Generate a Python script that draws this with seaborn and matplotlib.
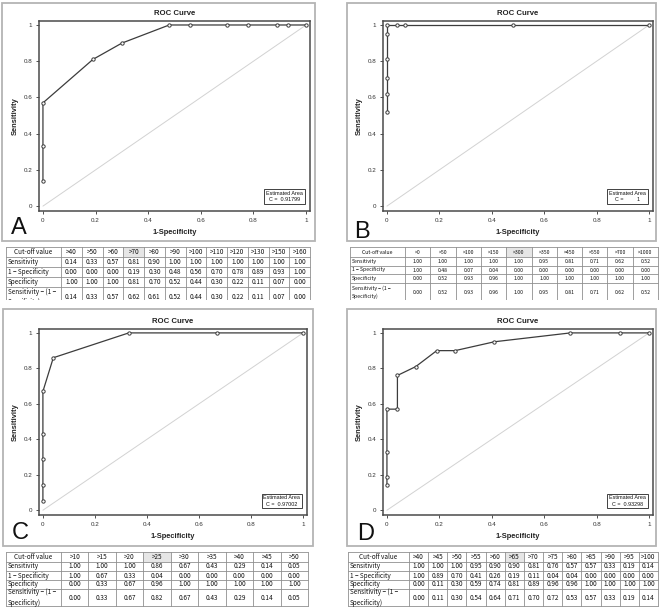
import matplotlib
matplotlib.use("Agg")
import matplotlib.pyplot as plt
import seaborn as sns
import pandas as pd
from matplotlib.patches import Rectangle

sns.set_theme(style="white")
plt.rcParams['font.family'] = ['Liberation Sans', 'DejaVu Sans']

# ---------------- data ----------------
a_cut = [">40", ">50", ">60", ">70", ">80", ">90", ">100", ">110", ">120", ">130", ">150", ">160"]
a_sens = [0.14, 0.33, 0.57, 0.81, 0.90, 1.00, 1.00, 1.00, 1.00, 1.00, 1.00, 1.00]
a_fpr = [0.00, 0.00, 0.00, 0.19, 0.30, 0.48, 0.56, 0.70, 0.78, 0.89, 0.93, 1.00]
a_spec = [1.00, 1.00, 1.00, 0.81, 0.70, 0.52, 0.44, 0.30, 0.22, 0.11, 0.07, 0.00]
a_youden = [0.14, 0.33, 0.57, 0.62, 0.61, 0.52, 0.44, 0.30, 0.22, 0.11, 0.07, 0.00]
a_auc = "0.91799"

b_cut = [">0", ">50", ">100", ">150", ">300", ">350", ">450", ">550", ">700", ">1000"]
b_sens = [1.00, 1.00, 1.00, 1.00, 1.00, 0.95, 0.81, 0.71, 0.62, 0.52]
b_fpr = [1.00, 0.48, 0.07, 0.04, 0.00, 0.00, 0.00, 0.00, 0.00, 0.00]
b_spec = [0.00, 0.52, 0.93, 0.96, 1.00, 1.00, 1.00, 1.00, 1.00, 1.00]
b_youden = [0.00, 0.52, 0.93, 0.96, 1.00, 0.95, 0.81, 0.71, 0.62, 0.52]
b_auc = "       1"

c_cut = [">10", ">15", ">20", ">25", ">30", ">35", ">40", ">45", ">50"]
c_sens = [1.00, 1.00, 1.00, 0.86, 0.67, 0.43, 0.29, 0.14, 0.05]
c_fpr = [1.00, 0.67, 0.33, 0.04, 0.00, 0.00, 0.00, 0.00, 0.00]
c_spec = [0.00, 0.33, 0.67, 0.96, 1.00, 1.00, 1.00, 1.00, 1.00]
c_youden = [0.00, 0.33, 0.67, 0.82, 0.67, 0.43, 0.29, 0.14, 0.05]
c_auc = "0.97002"

d_cut = [">40", ">45", ">50", ">55", ">60", ">65", ">70", ">75", ">80", ">85", ">90", ">95", ">100"]
d_sens = [1.00, 1.00, 1.00, 0.95, 0.90, 0.90, 0.81, 0.76, 0.57, 0.57, 0.33, 0.19, 0.14]
d_fpr = [1.00, 0.89, 0.70, 0.41, 0.26, 0.19, 0.11, 0.04, 0.04, 0.00, 0.00, 0.00, 0.00]
d_spec = [0.00, 0.11, 0.30, 0.59, 0.74, 0.81, 0.89, 0.96, 0.96, 1.00, 1.00, 1.00, 1.00]
d_youden = [0.00, 0.11, 0.30, 0.54, 0.64, 0.71, 0.70, 0.72, 0.53, 0.57, 0.33, 0.19, 0.14]
d_auc = "0.93298"

row_labels = ["Cut-off value", "Sensitivity", "1 \u2212 Specificity", "Specificity",
              "Sensitivity \u2212 (1 \u2212\nSpecificity)"]
ticks = [0, 0.2, 0.4, 0.6, 0.8, 1]
tick_labels = ["0", "0.2", "0.4", "0.6", "0.8", "1"]

# ---------------- layout helpers ----------------
W, H = 661, 612
fig = plt.figure(figsize=(W / 100, H / 100), dpi=100)
fig.patch.set_facecolor("white")


def rect(x0, y0, x1, y1):
    return [x0 / W, 1 - y1 / H, (x1 - x0) / W, (y1 - y0) / H]


def frame(x0, y0, x1, y1):
    fig.patches.append(Rectangle((x0 / W, 1 - y1 / H), (x1 - x0) / W, (y1 - y0) / H,
                                 transform=fig.transFigure, fill=False,
                                 ec="#b4b4b4", lw=1.3, zorder=0))


def roc(box, fpr, sens, auc):
    ax = fig.add_axes(rect(*box))
    ax.plot([0, 1], [0, 1], color="#d2d2d2", lw=0.7, zorder=1)
    df = pd.DataFrame({"fpr": fpr, "sens": sens})
    sns.lineplot(data=df, x="fpr", y="sens", sort=False, estimator=None, ax=ax,
                 color="#3c3c3c", lw=0.9, marker="o", markersize=2.4,
                 markerfacecolor="white", markeredgecolor="#3c3c3c",
                 markeredgewidth=0.7, zorder=3)
    ax.set_xlim(-0.015, 1.015)
    ax.set_ylim(-0.027, 1.022)
    ax.set_xticks(ticks)
    ax.set_xticklabels(tick_labels)
    ax.set_yticks(ticks)
    ax.set_yticklabels(tick_labels)
    ax.tick_params(axis="both", which="both", length=2.5, width=0.6, labelsize=4.5,
                   pad=2.5, colors="#333333", direction="out", bottom=True, left=True)
    for s in ax.spines.values():
        s.set_color("#4a4a4a")
        s.set_linewidth(1.1)
    ax.set_title("ROC Curve", fontsize=5.6, fontweight="bold", pad=4, color="#222222")
    ax.set_xlabel("1-Specificity", fontsize=5.4, fontweight="bold", labelpad=4.5, color="#222222")
    ax.set_ylabel("Sensitivity", fontsize=5.4, fontweight="bold", labelpad=3, color="#222222")
    ax.text(0.974, 0.045, "Estimated Area\nC =  " + auc, transform=ax.transAxes,
            ha="right", va="bottom", multialignment="center", fontsize=3.9,
            color="#111111", linespacing=1.35,
            bbox=dict(boxstyle="square,pad=0.3", fc="white", ec="#222222", lw=0.6),
            zorder=5)
    return ax


def table(x0, x1, first_w, rows_y, clip_y, cuts, vals, hl, fs, ls):
    ax = fig.add_axes(rect(x0 - 1, rows_y[0] - 1, x1 + 1, clip_y))
    ax.set_xlim(x0 - 1, x1 + 1)
    ax.set_ylim(clip_y, rows_y[0] - 1)
    ax.axis("off")
    n = len(cuts)
    cw = (x1 - x0 - first_w) / n
    xs = [x0, x0 + first_w] + [x0 + first_w + cw * (i + 1) for i in range(n)]
    ax.add_patch(Rectangle((xs[hl + 1], rows_y[0]), cw, rows_y[1] - rows_y[0],
                           fc="#e6e6e6", ec="none", zorder=0))
    for y in rows_y:
        ax.plot([x0, x1], [y, y], color="#8f8f8f", lw=0.6, zorder=2)
    for x in xs:
        ax.plot([x, x], [rows_y[0], rows_y[-1]], color="#8f8f8f", lw=0.6, zorder=2)
    fam = ["Noto Sans CJK JP", "DejaVu Sans"]
    for r in range(5):
        yc = (rows_y[r] + rows_y[r + 1]) / 2
        if r == 0:
            ax.text((xs[0] + xs[1]) / 2, yc, row_labels[0], ha="center", va="center",
                    fontsize=fs, family=fam, color="#111111", clip_on=True)
        else:
            ax.text(x0 + 2, yc, row_labels[r], ha="left", va="center", fontsize=fs,
                    family=fam, color="#111111", clip_on=True, linespacing=ls)
        for i in range(n):
            xc = (xs[i + 1] + xs[i + 2]) / 2
            txt = cuts[i] if r == 0 else "%.2f" % vals[r - 1][i]
            ax.text(xc, yc, txt, ha="center", va="center", fontsize=fs, family=fam,
                    color="#111111", clip_on=True)
    return ax


# frames
frame(2, 3, 315, 241)
frame(347, 3, 656, 241)
frame(3, 309, 313, 546)
frame(347, 309, 656, 546)

roc((39, 21, 310, 211), a_fpr, a_sens, a_auc)
roc((383, 21, 653, 211), b_fpr, b_sens, b_auc)
roc((39, 329, 307, 515), c_fpr, c_sens, c_auc)
roc((383, 329, 653, 515), d_fpr, d_sens, d_auc)

table(6, 310, 55, [247, 257, 267, 277, 287, 307], 300, a_cut,
      [a_sens, a_fpr, a_spec, a_youden], 3, 4.6, 1.5)
table(350, 658, 55, [247, 257, 266, 274, 283, 302], 300, b_cut,
      [b_sens, b_fpr, b_spec, b_youden], 4, 3.7, 1.6)
table(6, 308, 55, [552, 562, 571, 580, 589, 606], 608, c_cut,
      [c_sens, c_fpr, c_spec, c_youden], 3, 4.6, 1.5)
table(348, 658, 61, [552, 562, 571, 580, 589, 606], 608, d_cut,
      [d_sens, d_fpr, d_spec, d_youden], 5, 4.6, 1.5)

# panel letters
lf = ["Liberation Sans Narrow", "Liberation Sans", "DejaVu Sans"]
for lab, x, y in [("A", 11, 234), ("B", 354, 238), ("C", 12, 539), ("D", 357, 540)]:
    fig.text(x / W, 1 - y / H, lab, fontsize=17, family=lf, color="#111111",
             ha="left", va="baseline")

fig.savefig("out.png", dpi=100, facecolor="white")
